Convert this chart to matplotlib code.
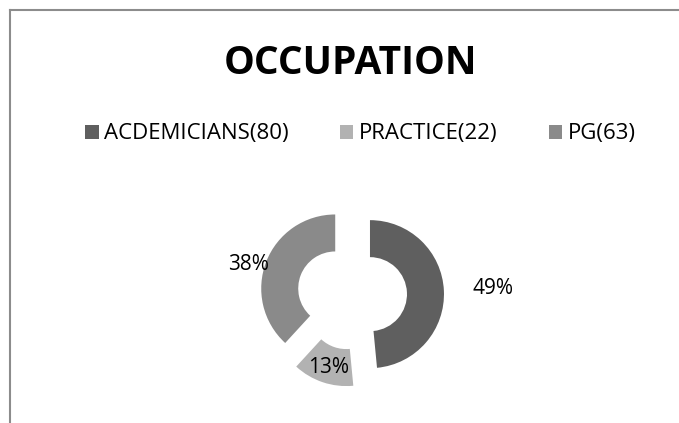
import numpy as np
import matplotlib
matplotlib.use('Agg')
import matplotlib.pyplot as plt
from matplotlib.lines import Line2D
from matplotlib.patches import Patch

# data
categories = ['ACDEMICIANS', 'PRACTICE', 'PG']
counts = [80, 22, 63]
pct_labels = ['49%', '13%', '38%']
colors = ['#5f5f5f', '#b2b2b2', '#8a8a8a']

# layout (pixel units, y up)
W, H = 679, 423
cx, cy = 352, 128
radius = 74
explode_px = 18
label_dist = [1.66, 0.75, 1.26]
label_dy = [0, -3, -10]

plt.rcParams['font.family'] = ['Open Sans', 'DejaVu Sans']

fig = plt.figure(figsize=(W / 100, H / 100), dpi=100)
ax = fig.add_axes([0, 0, 1, 1])
ax.set_xlim(0, W)
ax.set_ylim(0, H)
ax.axis('off')

wedges, _ = ax.pie(counts, colors=colors, startangle=90, counterclock=False,
                   center=(cx, cy), radius=radius, explode=[explode_px] * 3,
                   wedgeprops=dict(width=radius * 0.5, linewidth=0))
ax.set_xlim(0, W)
ax.set_ylim(0, H)

for w, lab, d, dy in zip(wedges, pct_labels, label_dist, label_dy):
    mid = np.deg2rad((w.theta1 + w.theta2) / 2)
    x0, y0 = w.center
    ax.text(x0 + d * radius * np.cos(mid), y0 + d * radius * np.sin(mid) + dy, lab,
            ha='center', va='center', fontsize=15, color='black')

# title and legend
fig.text(0.516, 1 - 63 / H, 'OCCUPATION', ha='center', va='center',
         fontsize=28, fontweight='bold')
handles = [Patch(facecolor=c, edgecolor='none') for c in colors]
leg_labels = [f'{c}({n})' for c, n in zip(categories, counts)]
fig.legend(handles, leg_labels, loc='center', bbox_to_anchor=(0.531, 1 - 134 / H),
           ncol=3, frameon=False, fontsize=16, handlelength=0.6, handleheight=0.6,
           handletextpad=0.25, columnspacing=2.3, borderpad=0)

# chart border (top and left visible)
fig.add_artist(Line2D([9.5 / W, 9.5 / W], [0, 1 - 10 / H], color='#8c8c8c', lw=1.5))
fig.add_artist(Line2D([9.5 / W, 1], [1 - 10 / H, 1 - 10 / H], color='#8c8c8c', lw=1.5))

fig.savefig('out.png', dpi=100)
